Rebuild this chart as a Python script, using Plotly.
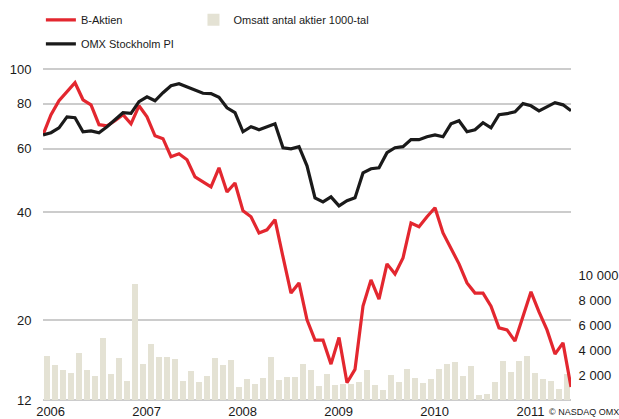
import plotly.graph_objects as go

# ---- data (monthly, Jan 2006 - Jun 2011) ----
b_aktien = [65.6, 74.6, 81.6, 86.5, 91.6, 82.1, 79.5, 70.0, 69.5, 71.8, 74.6, 70.4,
            79.0, 73.6, 65.2, 64.0, 57.0, 58.1, 55.9, 50.1, 48.6, 47.0, 53.1, 45.5,
            48.2, 40.3, 38.8, 35.0, 35.7, 38.1, 30.0, 23.8, 25.4, 20.05, 17.6, 17.6,
            15.1, 17.9, 13.4, 14.6, 21.9, 25.9, 22.9, 28.7, 26.9, 29.8, 37.3, 36.4,
            38.8, 41.1, 35.0, 31.8, 28.7, 25.4, 23.8, 23.8, 21.9, 19.05, 18.8, 17.5,
            20.4, 24.0, 21.1, 18.8, 16.1, 17.3, 13.05]

omx_pi = [65.6, 66.5, 68.6, 73.6, 73.2, 66.9, 67.3, 66.5, 69.1, 72.2, 75.6, 75.3,
          81.1, 83.7, 81.6, 85.9, 89.8, 91.0, 89.3, 87.6, 85.6, 85.4, 83.4, 78.0,
          75.6, 66.9, 69.1, 67.8, 69.1, 70.4, 60.4, 60.0, 60.8, 53.8, 43.8, 42.7,
          44.1, 41.6, 43.0, 43.8, 51.4, 52.8, 53.1, 58.5, 60.4, 60.8, 63.6, 63.6,
          64.8, 65.6, 64.8, 70.4, 71.8, 66.9, 67.8, 70.9, 68.6, 74.6, 75.1, 76.0,
          80.1, 79.0, 76.5, 78.5, 80.6, 79.5, 76.5]

volume = [3520, 2800, 2400, 2160, 3760, 2400, 1920, 4960, 2080, 3360, 1520, 9280,
          2880, 4480, 3440, 3440, 3280, 1520, 2320, 1440, 1920, 3360, 2800, 3200,
          1040, 1680, 1280, 1760, 3440, 1600, 1840, 1840, 2880, 2400, 1120, 2080,
          1200, 1280, 1280, 1440, 2400, 1200, 800, 2000, 1440, 2480, 1760, 1360,
          1680, 2480, 2880, 3040, 1920, 2720, 400, 480, 1440, 3120, 2240, 3120,
          3520, 2160, 1680, 1520, 880, 2080]

year_labels = ["2006", "2007", "2008", "2009", "2010", "2011"]
left_ticks = [12, 20, 40, 60, 80, 100]
right_ticks = [2000, 4000, 6000, 8000, 10000]
right_ticktext = ["2 000", "4 000", "6 000", "8 000", "10 000"]

line_x = list(range(len(b_aktien)))
bar_x = [i + 0.5 for i in range(len(volume))]

RED = "#e3272f"
BLACK = "#1a1a1a"
BEIGE = "#e4e2d4"
GRID = "#cccccc"
FONT = "Liberation Sans, Arial, sans-serif"

fig = go.Figure()

fig.add_trace(go.Bar(
    x=bar_x, y=volume, name="Omsatt antal aktier 1000-tal",
    marker=dict(color=BEIGE, line=dict(width=0)), width=0.75,
    xaxis="x", yaxis="y", legend="legend2",
))
fig.add_trace(go.Scatter(
    x=line_x, y=b_aktien, name="B-Aktien", mode="lines", legendgroup="a",
    line=dict(color=RED, width=3.2), xaxis="x", yaxis="y2", legend="legend",
))
fig.add_trace(go.Scatter(
    x=line_x, y=omx_pi, name="OMX Stockholm PI", mode="lines", legendgroup="b",
    line=dict(color=BLACK, width=3.2), xaxis="x", yaxis="y2", legend="legend",
))

fig.update_layout(
    width=619, height=419,
    margin=dict(l=43, r=48, t=67, b=17, autoexpand=False),
    paper_bgcolor="white", plot_bgcolor="white",
    font=dict(family=FONT, size=13, color=BLACK),
    showlegend=True,
    bargap=0,
    xaxis=dict(
        range=[0, 66], showgrid=False, zeroline=False, showline=False,
        tickvals=[12 * i + 0.95 for i in range(len(year_labels))],
        ticktext=year_labels, ticks="", tickfont=dict(size=13), automargin=False,
    ),
    yaxis=dict(
        side="right", range=[-160, 26640], showgrid=False, zeroline=False,
        tickvals=right_ticks, ticktext=right_ticktext,
        ticks="outside", ticklen=4, tickcolor="rgba(0,0,0,0)",
        tickfont=dict(size=13), automargin=False,
    ),
    yaxis2=dict(
        type="log", overlaying="y", side="left",
        range=[1.0736, 2.0056], showgrid=True, gridcolor=GRID, gridwidth=1.5,
        zeroline=False, tickvals=left_ticks, ticktext=[str(v) for v in left_ticks],
        ticks="outside", ticklen=8, tickcolor="rgba(0,0,0,0)",
        tickfont=dict(size=13), automargin=False,
    ),
    legend=dict(
        x=-0.004, y=1.184, xanchor="left", yanchor="top",
        orientation="v", font=dict(size=11, family=FONT, color=BLACK),
        bgcolor="rgba(0,0,0,0)", tracegroupgap=5,
    ),
    legend2=dict(
        x=0.285, y=1.184, xanchor="left", yanchor="top",
        orientation="v", font=dict(size=11, family=FONT, color=BLACK),
        bgcolor="rgba(0,0,0,0)",
    ),
    annotations=[dict(
        text="© NASDAQ OMX", xref="paper", yref="paper",
        x=0.955, y=-0.03, xanchor="left", yanchor="middle",
        showarrow=False, font=dict(size=9, family=FONT, color=BLACK),
    )],
)

fig.write_html("out.html", config={"displayModeBar": False},
               post_script="document.body.style.margin='0';")
